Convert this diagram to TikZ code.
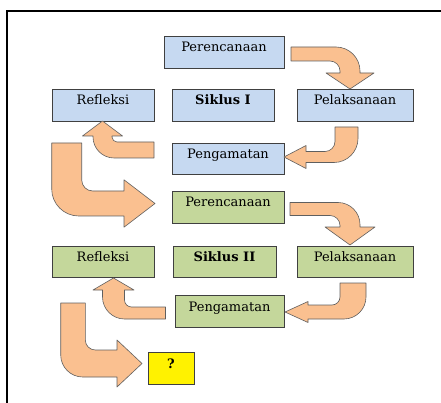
\documentclass[tikz,border=0pt]{standalone}
\usepackage{fontspec}
\setmainfont{DejaVu Serif}
\usepackage{tikz}
\usetikzlibrary{calc}

\definecolor{cyclea}{RGB}{198,217,241}
\definecolor{cycleb}{RGB}{196,215,155}
\definecolor{arrowfill}{RGB}{250,192,144}
\definecolor{arrowedge}{RGB}{95,95,95}
\definecolor{boxedge}{RGB}{64,64,64}

% bent block arrow: tail, corner, tip, half width (leg 1), half width (leg 2),
% head half width, head length, outer radius, inner radius
\newcommand{\bentarrow}[9]{%
  \path[bent] let \p1=#1, \p2=#2, \p3=#3,
    \n1={sign(\x2-\x1)}, \n2={sign(\y2-\y1)},
    \n3={sign(\x3-\x2)}, \n4={sign(\y3-\y2)},
    \p4=({\x2-#4*\n3+#5*\n1},{\y2-#4*\n4+#5*\n2}),
    \p5=({\x2+#4*\n3-#5*\n1},{\y2+#4*\n4-#5*\n2}),
    \p6=({\x3-#7*\n3},{\y3-#7*\n4}) in
    ({\x1-#4*\n3},{\y1-#4*\n4})
    -- ({\x4-#8*\n1},{\y4-#8*\n2})
    .. controls ({\x4-0.45*#8*\n1},{\y4-0.45*#8*\n2}) and ({\x4+0.45*#8*\n3},{\y4+0.45*#8*\n4})
    .. ({\x4+#8*\n3},{\y4+#8*\n4})
    -- ({\x6+#5*\n1},{\y6+#5*\n2}) -- ({\x6+#6*\n1},{\y6+#6*\n2})
    -- (\p3)
    -- ({\x6-#6*\n1},{\y6-#6*\n2}) -- ({\x6-#5*\n1},{\y6-#5*\n2})
    -- ({\x5+#9*\n3},{\y5+#9*\n4})
    .. controls ({\x5+0.45*#9*\n3},{\y5+0.45*#9*\n4}) and ({\x5-0.45*#9*\n1},{\y5-0.45*#9*\n2})
    .. ({\x5-#9*\n1},{\y5-#9*\n2})
    -- ({\x1+#4*\n3},{\y1+#4*\n4}) -- cycle;
}

\begin{document}
\begin{tikzpicture}[x=1pt,y=-1pt]

\tikzstyle{stage} =
[rectangle,
minimum height=32pt,
text height=9.5pt,
text depth=9.5pt,
inner sep=0pt,
draw=boxedge,
line width=0.8pt,
font=\fontsize{13}{15}\selectfont]

\tikzstyle{first} = [stage, fill=cyclea]
\tikzstyle{second} = [stage, fill=cycleb]

\tikzstyle{bent} =
[fill=arrowfill,
draw=arrowedge,
line width=0.6pt,
line join=round]

\useasboundingbox (0,0) rectangle (441,403);
\draw[line width=1.2pt] (7,403) -- (7,11) -- (441,11);

% Siklus I
\node (per1) [first, minimum width=120pt] at (224,52) {Perencanaan};
\node (ref1) [first, minimum width=102pt] at (103,105) {Refleksi};
\node (sik1) [first, minimum width=102pt] at (223,105) {\textbf{Siklus I}};
\node (pel1) [first, minimum width=116pt] at (355,105) {Pelaksanaan};
\node (pen1) [first, minimum width=112pt, minimum height=31pt] at (228,158.5) {Pengamatan};

% Siklus II
\node (per2) [second, minimum width=112pt] at (228,207) {Perencanaan};
\node (ref2) [second, minimum width=102pt, minimum height=31pt] at (103,261.5) {Refleksi};
\node (sik2) [second, minimum width=103pt, minimum height=31pt] at (224.5,261.5) {\textbf{Siklus II}};
\node (pel2) [second, minimum width=116pt, minimum height=31pt] at (355,261.5) {Pelaksanaan};
\node (pen2) [second, minimum width=109pt] at (229.5,311) {Pengamatan};

\node (next) [stage, fill=yellow, minimum width=46pt] at (171,368) {\textbf{?}};

\bentarrow{(291,54)}{(350,54)}{(350,89)}{7}{10}{24}{16}{24}{10}
\bentarrow{(346.5,127)}{(346.5,157)}{(284,157)}{11.5}{5.5}{11.5}{22}{24}{10}
\bentarrow{(154,150)}{(102.5,150)}{(102.5,121)}{8}{9.5}{20}{15}{21}{5}
\bentarrow{(66.7,143)}{(66.7,203.5)}{(155,203.5)}{15}{12.5}{23.7}{31}{27}{11}

\bentarrow{(290,209)}{(350,209)}{(350,245)}{6.5}{10}{25}{18}{22}{10}
\bentarrow{(353,283)}{(353,312)}{(285,312)}{13}{7}{10.5}{23}{22}{8}
\bentarrow{(165.5,313)}{(113.5,313)}{(113.5,278)}{6}{11}{20.5}{12}{22}{7}
\bentarrow{(73,303)}{(73,363.5)}{(142,363.5)}{12.3}{13.5}{23.5}{25}{22}{10}

\end{tikzpicture}
\end{document}
